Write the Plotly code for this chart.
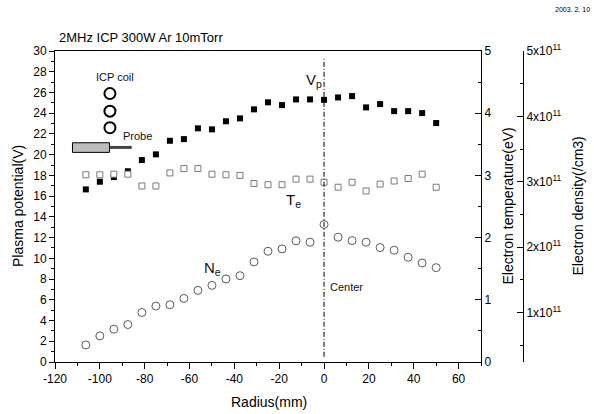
import plotly.graph_objects as go

# ---- data ----
radius_mm = [-106.25, -100.0, -93.75, -87.5, -81.25, -75.0, -68.75, -62.5, -56.25, -50.0,
             -43.75, -37.5, -31.25, -25.0, -18.75, -12.5, -6.25, 0.0, 6.25, 12.5,
             18.75, 25.0, 31.25, 37.5, 43.75, 50.0]

vp_volt = [16.65, 17.39, 17.84, 18.4, 19.48, 20.03, 21.34, 21.5, 22.54, 22.44,
           23.22, 23.5, 24.37, 25.05, 24.78, 25.33, 25.33, 25.29, 25.52, 25.65,
           24.56, 24.88, 24.2, 24.2, 24.01, 23.05]

te_ev = [3.01, 3.01, 3.02, 3.02, 2.83, 2.83, 3.04, 3.11, 3.11, 3.02,
         3.01, 3.00, 2.87, 2.85, 2.85, 2.94, 2.94, 2.89, 2.81, 2.89,
         2.75, 2.86, 2.91, 2.95, 3.02, 2.81]

ne_cm3 = [0.504e11, 0.642e11, 0.745e11, 0.816e11, 1.000e11, 1.098e11, 1.118e11, 1.215e11, 1.338e11, 1.415e11,
          1.513e11, 1.563e11, 1.774e11, 1.937e11, 1.973e11, 2.096e11, 2.075e11, 2.347e11, 2.152e11, 2.100e11,
          2.075e11, 1.993e11, 1.952e11, 1.845e11, 1.758e11, 1.686e11]

x_tickvals = [-120, -100, -80, -60, -40, -20, 0, 20, 40, 60]
x_ticktext = ["-120", "-100", "-80", "-60", "-40", "-20", "0", "20", "40", "60"]

ne_tickvals = [1e11, 2e11, 3e11, 4e11, 5e11]
ne_ticktext = ["1x10<sup>11</sup>", "2x10<sup>11</sup>", "3x10<sup>11</sup>",
               "4x10<sup>11</sup>", "5x10<sup>11</sup>"]
ne_minor = [0.5e11, 1.5e11, 2.5e11, 3.5e11, 4.5e11]

# illustration (ICP coil and probe sketch)
coil_x = [-95.5, -95.5, -95.5]
coil_y = [25.9, 24.2, 22.6]
probe_body = dict(x0=-112.2, x1=-95.7, y0=20.22, y1=21.15)
probe_rod = dict(x0=-95.7, x1=-85.8, y=20.7)

FONT = "Liberation Sans, Arial, sans-serif"

fig = go.Figure()

fig.add_trace(go.Scatter(x=radius_mm, y=vp_volt, mode="markers", yaxis="y",
                         marker=dict(symbol="square", size=6, color="black"),
                         showlegend=False, name="Vp"))
fig.add_trace(go.Scatter(x=coil_x, y=coil_y, mode="markers", yaxis="y",
                         marker=dict(symbol="circle-open", size=11, color="black",
                                     line=dict(width=2, color="black")),
                         showlegend=False, name="coil"))
fig.add_trace(go.Scatter(x=radius_mm, y=te_ev, mode="markers", yaxis="y2",
                         marker=dict(symbol="square", size=6, color="white",
                                     line=dict(width=1, color="#7a7a7a")),
                         showlegend=False, name="Te"))
fig.add_trace(go.Scatter(x=radius_mm, y=ne_cm3, mode="markers", yaxis="y3",
                         marker=dict(symbol="circle-open", size=8, color="#5a5a5a",
                                     line=dict(width=1, color="#5a5a5a")),
                         showlegend=False, name="Ne"))

W, H = 594, 414
ML, MR, MT, MB = 55, 71, 51, 52
PW = W - ML - MR
PH = H - MT - MB
x_dom_end = 426 / PW

def px_x(px):
    return (px - ML) / PW

def px_y(py):
    return (H - MB - py) / PH

axis_common = dict(showline=True, linecolor="black", linewidth=1, showgrid=False,
                   zeroline=False, tickcolor="black", tickfont=dict(size=12, color="black"))

fig.update_layout(
    width=W, height=H, autosize=False,
    margin=dict(l=ML, r=MR, t=MT, b=MB),
    paper_bgcolor="white", plot_bgcolor="white",
    font=dict(family=FONT, color="black"),
    xaxis=dict(domain=[0, x_dom_end], range=[-120, 70], tickmode="array",
               tickvals=x_tickvals, ticktext=x_ticktext,
               ticks="outside", ticklen=6, mirror=True,
               minor=dict(dtick=10, tick0=-120, ticks="outside", ticklen=3, tickcolor="black"),
               **axis_common),
    yaxis=dict(range=[0, 30], tickmode="linear", tick0=0, dtick=2, ticks="outside", ticklen=5,
               minor=dict(dtick=1, tick0=0, ticks="outside", ticklen=3, tickcolor="black"),
               **axis_common),
    yaxis2=dict(range=[0, 5], overlaying="y", side="right", anchor="x",
                tickmode="linear", tick0=0, dtick=1, ticks="inside", ticklen=6,
                minor=dict(dtick=0.5, tick0=0, ticks="inside", ticklen=3, tickcolor="black"),
                **axis_common),
    yaxis3=dict(range=[0.243e11, 5e11], overlaying="y", side="right", anchor="free", position=1,
                tickmode="array", tickvals=ne_tickvals, ticktext=ne_ticktext,
                ticks="inside", ticklen=6,
                minor=dict(tickmode="array", tickvals=ne_minor, ticks="inside", ticklen=3,
                           tickcolor="black"),
                **axis_common),
)

shapes = [
    dict(type="line", xref="x", yref="y", x0=0, x1=0, y0=0.5, y1=29.3,
         line=dict(color="black", width=1, dash="5px,2px,1px,2px")),
    dict(type="rect", xref="x", yref="y", fillcolor="#bdbdbd",
         line=dict(color="black", width=1), **probe_body),
    dict(type="line", xref="x", yref="y", x0=probe_rod["x0"], x1=probe_rod["x1"],
         y0=probe_rod["y"], y1=probe_rod["y"], line=dict(color="#444444", width=3)),
]
fig.update_layout(shapes=shapes)

ann = []
def add_data_text(text, x, y, size, color="#111111"):
    ann.append(dict(text=text, x=x, y=y, xref="x", yref="y", showarrow=False,
                    font=dict(size=size, color=color, family=FONT),
                    xanchor="center", yanchor="middle"))

add_data_text("V<sub>p</sub>", -4.7, 27.2, 15)
add_data_text("T<sub>e</sub>", -13.6, 15.6, 15)
add_data_text("N<sub>e</sub>", -49.8, 9.06, 15)
add_data_text("Center", 10.1, 7.2, 11)
add_data_text("ICP coil", -93.4, 27.5, 11)
add_data_text("Probe", -83.3, 21.8, 11)

def add_paper_text(text, px, py, size, angle=0, xanchor="center"):
    ann.append(dict(text=text, x=px_x(px), y=px_y(py), xref="paper", yref="paper",
                    showarrow=False, textangle=angle,
                    font=dict(size=size, color="black", family=FONT),
                    xanchor=xanchor, yanchor="middle"))

add_paper_text("2MHz ICP 300W Ar 10mTorr", 57, 38, 13, xanchor="left")
add_paper_text("2003. 2. 10", 592, 9.5, 7, xanchor="right")
add_paper_text("Radius(mm)", 268.5, 402, 14)
add_paper_text("Plasma potential(V)", 17.5, 206.5, 14, angle=-90)
add_paper_text("Electron temperature(eV)", 507, 206.5, 14, angle=-90)
add_paper_text("Electron density(/cm3)", 577, 206.5, 14, angle=-90)

fig.update_layout(annotations=ann)

fig.write_html("out.html", config={"displayModeBar": False})

# remove the browser's default page margin so the figure sits at (0, 0)
with open("out.html", "r", encoding="utf-8") as f:
    html = f.read()
html = html.replace("<head>", "<head><style>html,body{margin:0;padding:0;overflow:hidden;}</style>", 1)
with open("out.html", "w", encoding="utf-8") as f:
    f.write(html)
